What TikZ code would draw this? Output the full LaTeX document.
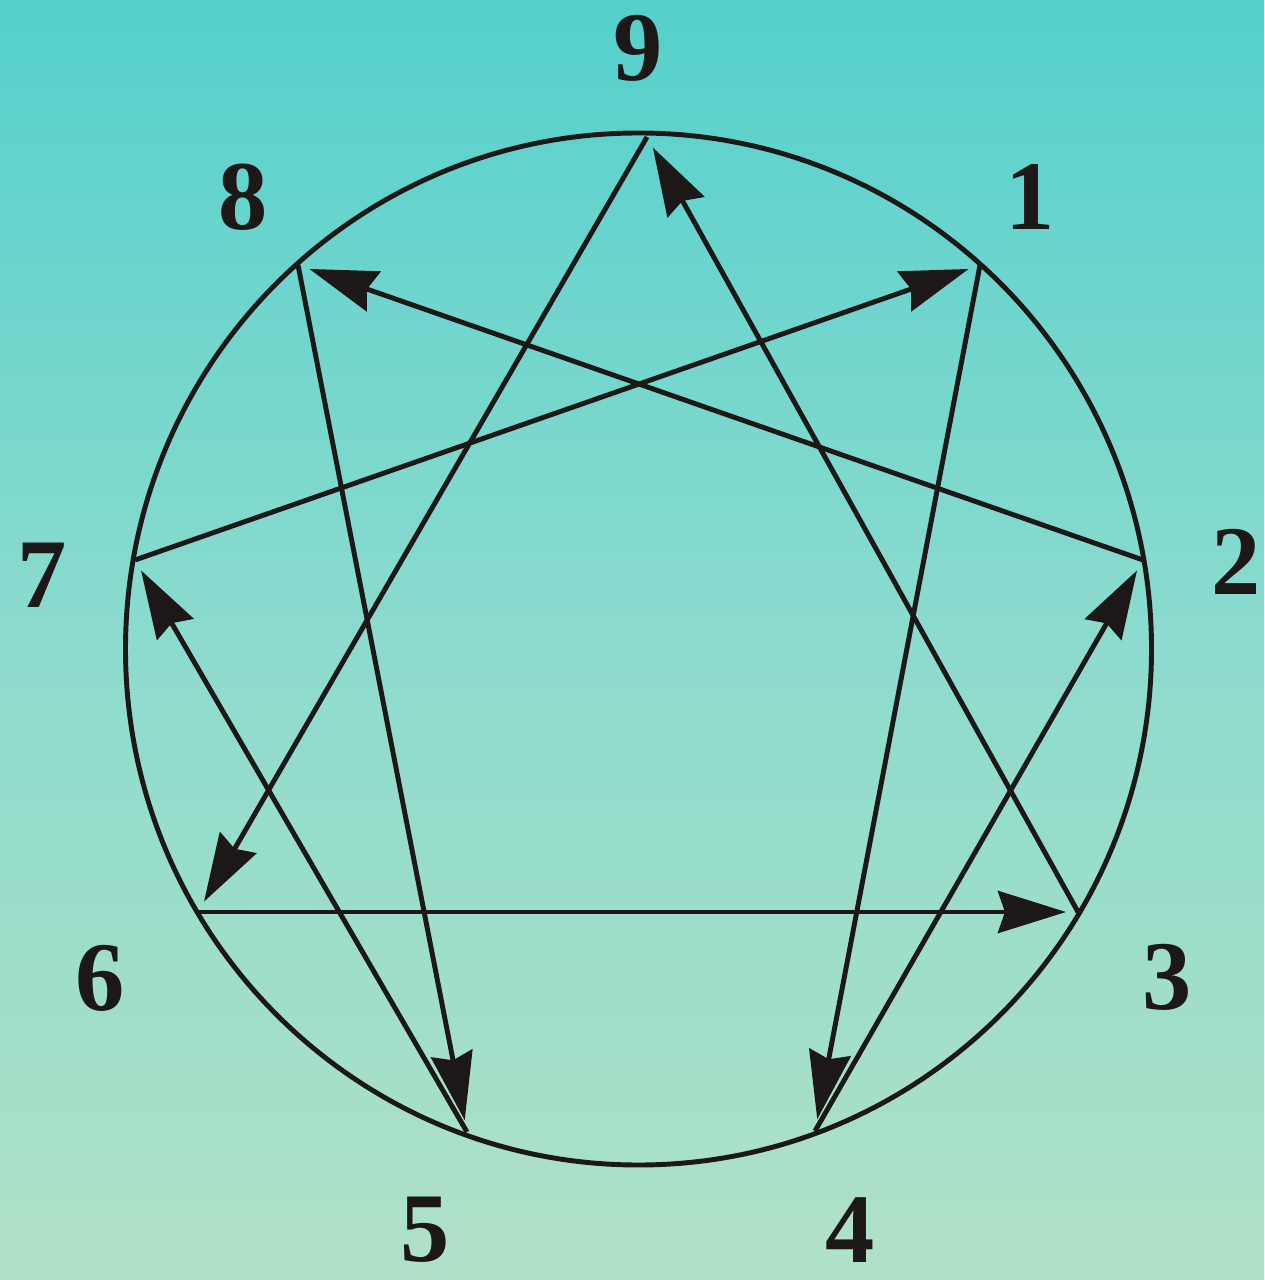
\documentclass[tikz,border=0pt]{standalone}
\usepackage{fontspec}
\setmainfont{Liberation Serif}
\usetikzlibrary{arrows.meta}
\definecolor{fondhaut}{RGB}{84,208,204}
\definecolor{fondmilieu}{RGB}{140,219,206}
\definecolor{fondbas}{RGB}{176,225,198}
\definecolor{encre}{RGB}{28,24,24}
\begin{document}
\begin{tikzpicture}[x=0.01cm, y=-0.01cm,
    trait/.style={line width=1.4pt, encre},
    fleche/.style={trait, -{Stealth[length=6.8mm, width=4.2mm, inset=0.7mm]}, shorten >=1.2mm},
    chiffre/.style={font=\fontsize{28}{30}\selectfont\bfseries, text=encre, inner sep=1pt}]
    % Fond
    \useasboundingbox (0,0) rectangle (1264,1280);
    \shade[top color=fondhaut, bottom color=fondbas, middle color=fondmilieu] (0,0) rectangle (1264,1280);

    % Cercle
    \coordinate (c) at (638.5,649);
    \draw[trait] (c) ellipse [x radius=513, y radius=516];

    % Sommets
    \coordinate (p9) at (647,137);
    \coordinate (p1) at (980,265);
    \coordinate (p2) at (1143,560);
    \coordinate (p3) at (1078,912);
    \coordinate (p4) at (815,1131);
    \coordinate (p5) at (467,1132);
    \coordinate (p6) at (198,912);
    \coordinate (p7) at (135,560);
    \coordinate (p8) at (298,265);

    % Fleches
    \draw[fleche] (p1) -- (p4);
    \draw[fleche] (p4) -- (p2);
    \draw[fleche] (p2) -- (p8);
    \draw[fleche] (p8) -- (p5);
    \draw[fleche] (p5) -- (p7);
    \draw[fleche] (p7) -- (p1);
    \draw[fleche] (p9) -- (p6);
    \draw[fleche] (p6) -- (p3);
    \draw[fleche] (p3) -- (p9);

    % Chiffres
    \node[chiffre] (l9) at (638,48) {9};
    \node[chiffre] (l1) at (1030,197) {1};
    \node[chiffre] (l2) at (1236,562) {2};
    \node[chiffre] (l3) at (1167,977) {3};
    \node[chiffre] (l4) at (850,1230) {4};
    \node[chiffre] (l5) at (425,1230) {5};
    \node[chiffre] (l6) at (100,978) {6};
    \node[chiffre] (l7) at (42,575) {7};
    \node[chiffre] (l8) at (243,197) {8};
\end{tikzpicture}
\end{document}
